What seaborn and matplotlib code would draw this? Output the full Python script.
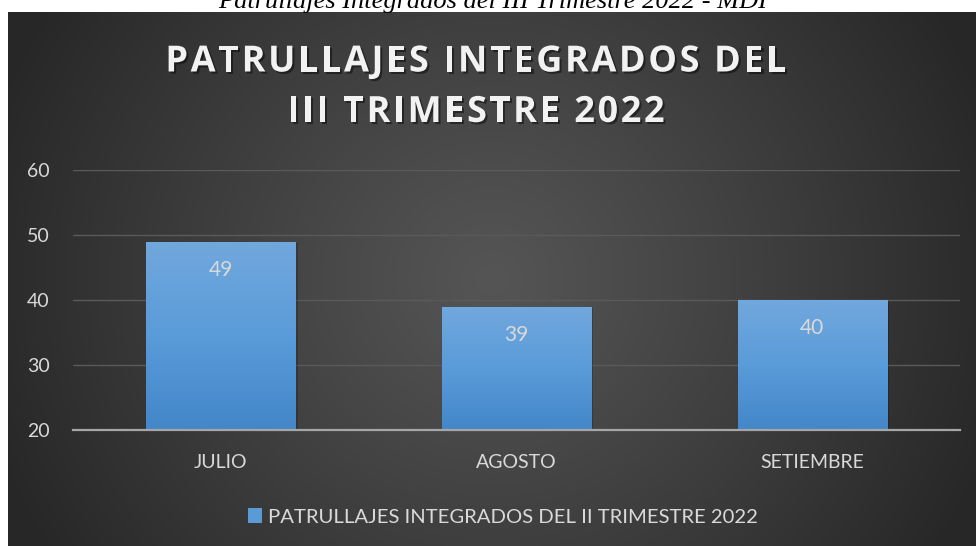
import numpy as np
import pandas as pd
import matplotlib
matplotlib.use("Agg")
import matplotlib.pyplot as plt
import seaborn as sns
from matplotlib import patheffects as pe
from matplotlib.patches import Rectangle
from matplotlib.colors import LinearSegmentedColormap
from matplotlib.font_manager import FontProperties, findfont
from matplotlib.ft2font import FT2Font

# --- data -------------------------------------------------------------
meses = ["JULIO", "AGOSTO", "SETIEMBRE"]
patrullajes = [49, 39, 40]
serie = "PATRULLAJES INTEGRADOS DEL II TRIMESTRE 2022"
titulo = ["PATRULLAJES INTEGRADOS DEL", "III TRIMESTRE 2022"]
epigrafe = "Patrullajes Integrados del III Trimestre 2022 - MDI"
y_ticks = [20, 30, 40, 50, 60]

df = pd.DataFrame({"mes": meses, "valor": patrullajes})

sns.set_theme(style="dark")
plt.rcParams["font.family"] = ["Lato", "DejaVu Sans"]

W, H = 976, 546
DPI = 100
fig = plt.figure(figsize=(W / DPI, H / DPI), dpi=DPI)
fig.patch.set_facecolor("white")

# --- dark panel with a soft radial gradient ------------------------------
px0, py_top = 8, 12
pw, ph = W - px0, H - py_top
bg = fig.add_axes([px0 / W, 0, pw / W, ph / H])
yy, xx = np.mgrid[0:ph, 0:pw]
cx, cy = pw * 0.50, ph * 0.50
r = np.sqrt(((xx - cx) / (pw * 0.55)) ** 2 + ((yy - cy) / (ph * 0.95)) ** 2)
t = np.clip(r, 0, 1) ** 1.1
c_center, c_edge = 0x55 / 255, 0x27 / 255
shade = c_center + (c_edge - c_center) * t
bg.imshow(np.dstack([shade, shade, shade]), aspect="auto", extent=[0, 1, 0, 1],
          interpolation="bilinear")
bg.set_axis_off()

# --- main bar chart ------------------------------------------------------
ax = fig.add_axes([73 / W, (H - 430) / H, 887 / W, 260 / H])
ax.patch.set_alpha(0)
sns.barplot(data=df, x="mes", y="valor", ax=ax, color="#5b9bd5",
            width=0.505, saturation=1, linewidth=0)
ax.set_ylim(20, 60)
ax.set_xlim(-0.5, len(meses) - 0.5)
ax.set_yticks(y_ticks)
ax.set_xlabel("")
ax.set_ylabel("")

for s in ["top", "right", "left"]:
    ax.spines[s].set_visible(False)
ax.spines["bottom"].set_color("#a6a6a6")
ax.spines["bottom"].set_linewidth(1.6)
ax.spines["bottom"].set_zorder(5)
ax.yaxis.grid(True, color="#5a5a5a", linewidth=1.0)
ax.xaxis.grid(False)
ax.set_axisbelow(True)
ax.tick_params(axis="y", length=0, pad=17, labelsize=14, labelcolor="#d9d9d9")
ax.tick_params(axis="x", length=0, pad=17, labelsize=14, labelcolor="#d9d9d9")

# vertical blue gradient inside each bar, with a faint outer shadow
grad_cmap = LinearSegmentedColormap.from_list("barra", ["#4387c9", "#5a9bd9", "#71a8dd"])
grad = np.linspace(0, 1, 256).reshape(-1, 1)
for bar, val in zip(ax.patches, patrullajes):
    x0, w = bar.get_x(), bar.get_width()
    bar.set_path_effects([pe.SimplePatchShadow(offset=(1.5, -1), shadow_rgbFace="black",
                                                alpha=0.2), pe.Normal()])
    im = ax.imshow(grad, cmap=grad_cmap, origin="lower", aspect="auto",
                   extent=[x0, x0 + w, 20, val], zorder=bar.get_zorder() + 0.1)
    im.set_clip_path(bar)
    ax.annotate(f"{val}", xy=(x0 + w / 2, val), xytext=(0, -20.5),
                textcoords="offset points", ha="center", va="center",
                fontsize=15, color="#d9d9d9", zorder=6)
ax.set_xlim(-0.5, len(meses) - 0.5)
ax.set_ylim(20, 60)

# --- title, letter-spaced -------------------------------------------------
TITLE_SIZE = 26
title_fp = FontProperties(family=["Open Sans", "DejaVu Sans"], weight="bold",
                          size=TITLE_SIZE)
title_font = FT2Font(findfont(title_fp))
title_font.set_size(TITLE_SIZE, 72)
title_fx = [pe.withSimplePatchShadow(offset=(1.5, -1.5), shadow_rgbFace="black", alpha=0.45)]


def spaced_line(text, xc_px, baseline_px, tracking_px):
    """Write a centred line letter by letter, with extra space between letters."""
    scale = DPI / 72.0
    adv = [title_font.load_char(ord(c)).linearHoriAdvance / 65536.0 * scale for c in text]
    total = sum(adv) + tracking_px * (len(text) - 1)
    x = xc_px - total / 2
    for c, a in zip(text, adv):
        if c != " ":
            fig.text(x / W, 1 - baseline_px / H, c, fontproperties=title_fp,
                     ha="left", va="baseline", color="#f2f2f2", path_effects=title_fx)
        x += a + tracking_px


spaced_line(titulo[0], 476, 71.5, 2.6)
spaced_line(titulo[1], 476, 122, 2.6)

# --- caption above the panel (cut by the top edge) -----------------------
fig.text(493 / W, 1 - 8 / H, epigrafe, ha="center", va="baseline",
         fontsize=19, style="italic", family=["Liberation Serif", "DejaVu Serif"],
         color="black")

# --- legend --------------------------------------------------------------
handle = Rectangle((0, 0), 1, 1, facecolor="#5b9bd5", edgecolor="none")
leg = fig.legend([handle], [serie], loc="center", bbox_to_anchor=(503 / W, 1 - 517 / H),
                 frameon=False, fontsize=14.6, handlelength=0.7, handleheight=0.7,
                 handletextpad=0.3, borderpad=0)
for txt in leg.get_texts():
    txt.set_color("#d9d9d9")

fig.savefig("out.png", dpi=DPI, facecolor=fig.get_facecolor())
